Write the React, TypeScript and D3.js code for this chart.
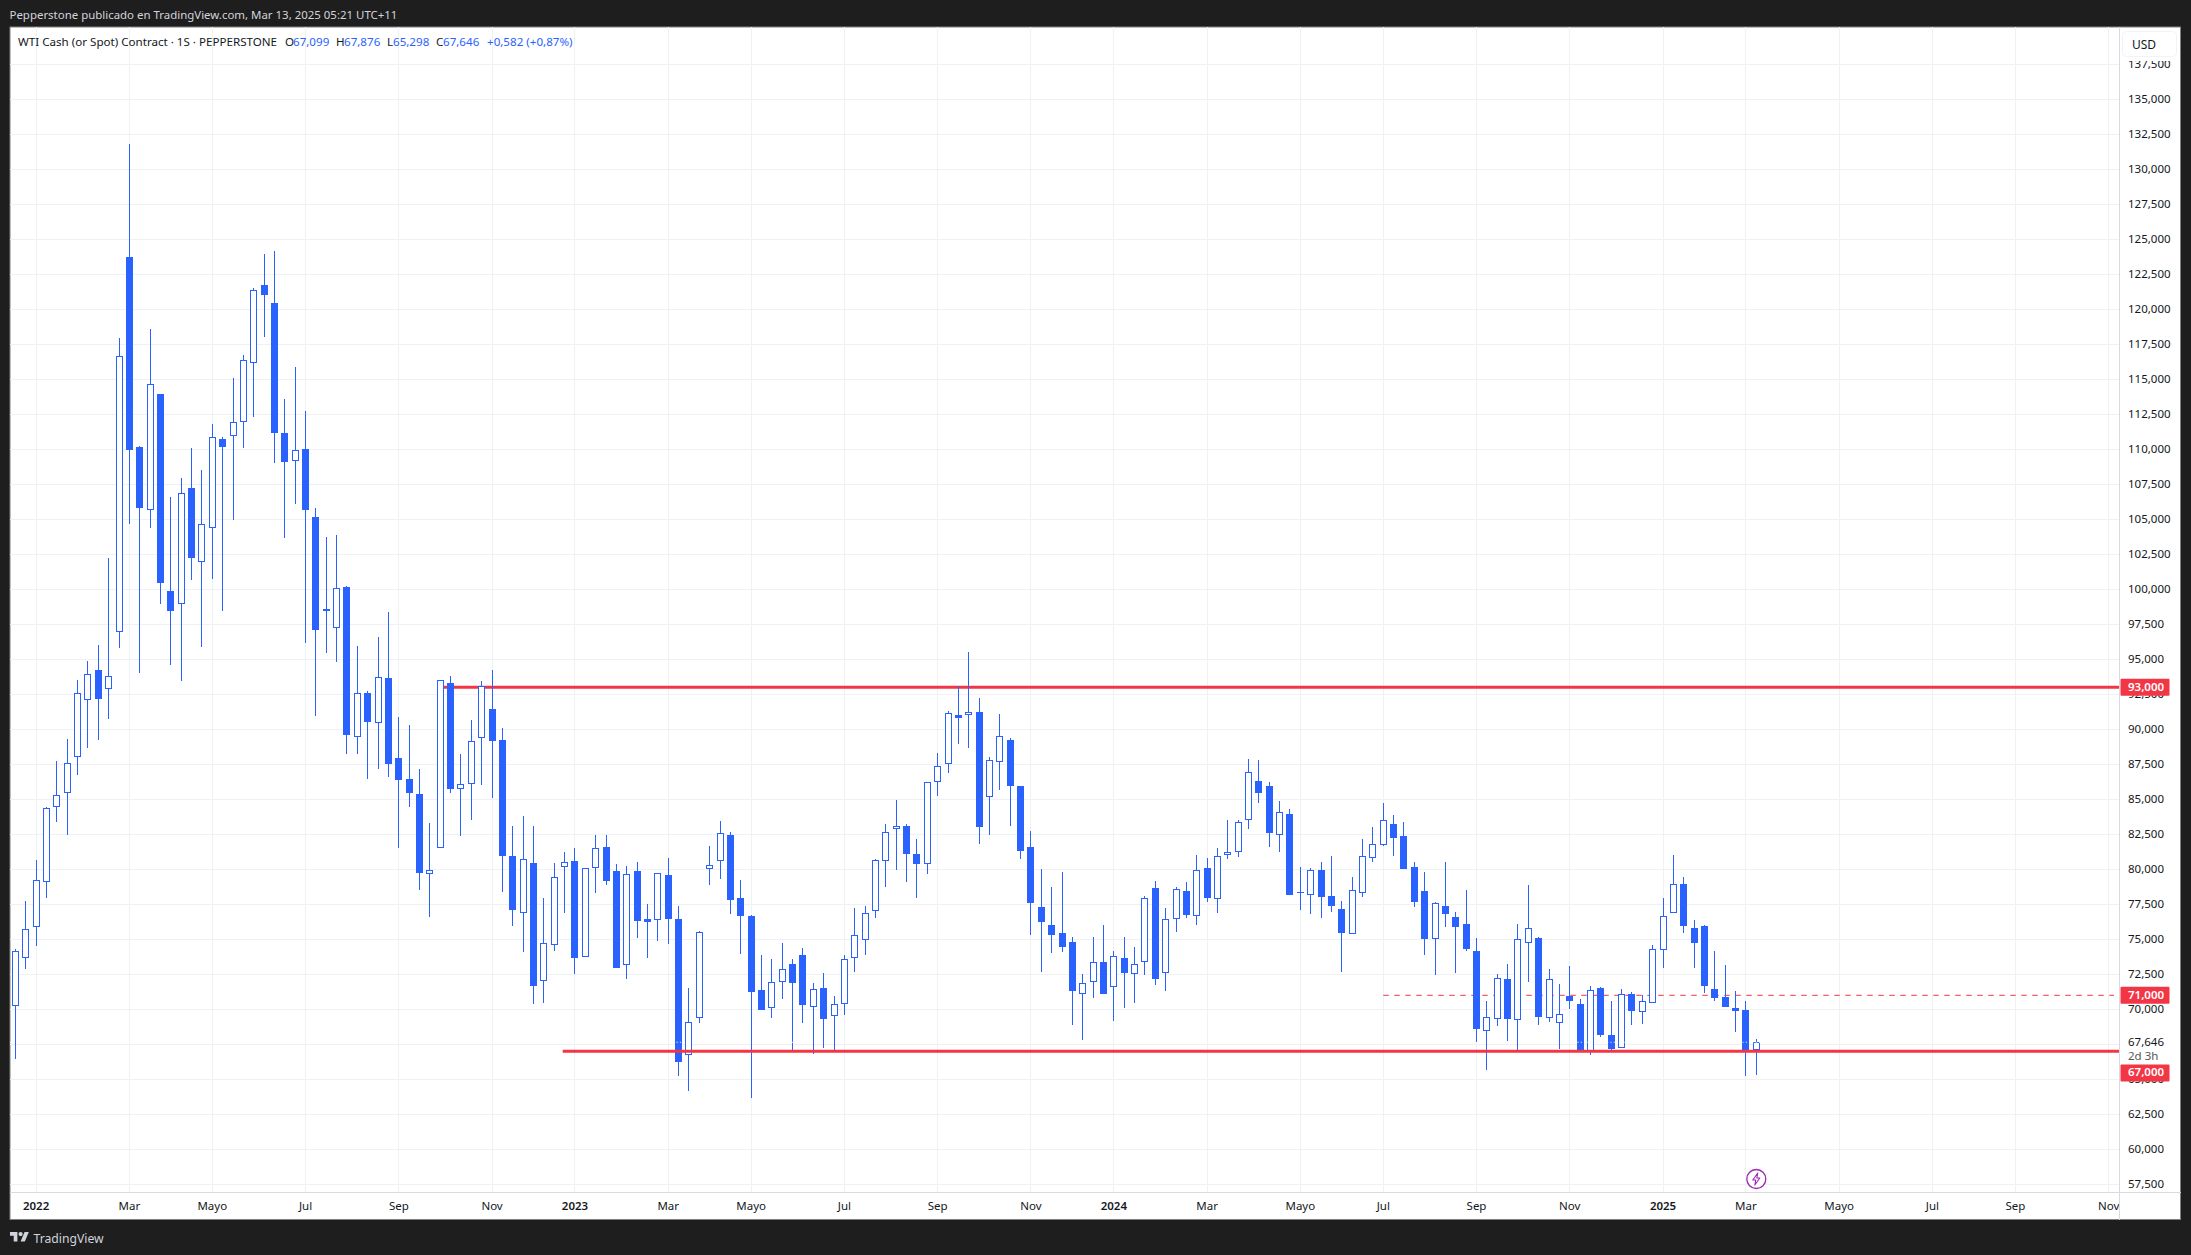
import React from "react";
import * as d3 from "d3";

// weekly candles, one value per week from the first bar on
const firstWeek = new Date(Date.UTC(2021, 11, 20));
const opens = [
  70.21, 73.64, 75.86, 79.07, 84.43, 85.43, 88, 92.07, 94.21, 92.86, 96.93, 123.74, 110.17, 105.64, 113.95, 99.88, 98.93, 107.21, 101.93, 104.36,
  110.74, 110.93, 111.93, 116.14, 121.74, 120.45, 111.17, 109.14, 110.02, 105.17, 98.6, 97.21, 100.17, 89.43, 92.57, 90.43, 93.67, 87.95, 86.43, 85.38,
  79.64, 81.5, 93.29, 85.71, 86.07, 89.36, 91.43, 89.24, 80.93, 76.86, 80.43, 72, 74.57, 80.14, 80.57, 73.71, 80.07, 81.57, 79.88, 73.14,
  79.88, 76.43, 76.36, 79.6, 76.45, 66.71, 69.36, 80, 80.57, 82.45, 77.95, 76.67, 71.38, 70.07, 71.93, 73.24, 73.88, 70.14, 71.52, 69.55,
  70.36, 73.64, 74.93, 77, 80.57, 82.86, 83.1, 81.1, 80.36, 86.21, 87.5, 91.02, 91, 91.24, 85.14, 87.64, 89.24, 85.95, 81.6, 77.31,
  76.02, 75.45, 74.81, 71.07, 71.93, 73.36, 71.57, 73.64, 72.5, 73.36, 78.64, 72.57, 76.43, 78.43, 76.64, 80.07, 77.86, 81, 81.21, 83.5,
  86.29, 85.93, 82.43, 83.95, 78.41, 78.19, 79.93, 78.07, 77.14, 75.4, 78.33, 80.83, 81.71, 83.24, 82.38, 80.17, 78.45, 75, 77.38, 76.6,
  76.1, 74.17, 68.43, 69.33, 72.17, 69.21, 74.71, 75.1, 69.36, 69, 70.95, 70.38, 66.93, 71.52, 68.17, 67.21, 71.07, 69.79, 70.43, 74.21,
  76.86, 78.93, 75.79, 75.95, 71.43, 70.88, 70.1, 69.95, 67.099,
];
const highs = [
  74.31, 77.74, 80.67, 84.45, 87.74, 89.31, 93.5, 94.88, 96.02, 102.24, 117.95, 131.81, 110.24, 118.6, 113.95, 106.6, 107.95, 110.1, 108.52, 111.81,
  110.88, 115.1, 116.74, 121.52, 123.95, 124.17, 113.6, 115.88, 112.74, 105.81, 103.74, 103.88, 100.24, 95.95, 92.71, 96.6, 98.38, 90.88, 90.31, 87.17,
  83.31, 93.5, 93.81, 88.24, 90.67, 93.45, 94.21, 90.07, 83.1, 83.79, 83.1, 77.95, 80.43, 81.24, 81.52, 80.07, 82.45, 82.45, 80.38, 80.24,
  80.52, 77.52, 79.75, 80.81, 77.38, 71.52, 75.6, 81.67, 83.45, 82.67, 79.24, 76.74, 73.88, 73.6, 74.74, 73.6, 74.38, 71.88, 72.6, 70.95,
  73.88, 77.24, 77.38, 80.74, 83.24, 84.95, 83.24, 82.17, 86.21, 88.31, 91.31, 93.1, 95.52, 92.24, 88.02, 91.1, 89.38, 85.95, 82.74, 80.02,
  78.74, 79.81, 75.17, 72.52, 75.17, 76.02, 74.17, 75.17, 74.45, 78.1, 79.17, 77.24, 78.74, 79.1, 81.02, 80.81, 81.52, 83.52, 83.52, 87.88,
  87.81, 86.24, 84.88, 84.31, 80.17, 80.1, 80.52, 80.95, 77.74, 79.45, 82.17, 83.02, 84.74, 83.88, 83.38, 80.52, 79.81, 77.67, 80.52, 76.95,
  78.52, 75.1, 70.6, 72.52, 73.24, 76.1, 78.88, 75.17, 72.88, 71.81, 73.1, 70.74, 71.67, 71.6, 70.6, 71.45, 71.24, 71.02, 74.6, 77.95,
  81.02, 79.45, 76.38, 76.02, 74.17, 73.17, 71.31, 70.6, 67.876,
];
const lows = [
  66.48, 72.9, 74.55, 77.98, 83.4, 82.48, 86.76, 88.69, 89.26, 90.76, 95.83, 104.69, 94.05, 104.4, 98.98, 94.62, 93.48, 100.69, 95.9, 100.76,
  98.48, 104.98, 110.1, 112.33, 118.05, 109.05, 103.69, 106.12, 96.19, 90.98, 95.48, 94.81, 88.26, 88.26, 86.48, 87.19, 86.62, 81.55, 84.48, 78.55,
  76.62, 81.5, 85.48, 82.4, 83.55, 86.05, 85.12, 78.4, 75.98, 74.12, 70.4, 70.48, 74.19, 76.88, 72.55, 73.71, 78.33, 78.9, 72.98, 72.19,
  75.1, 73.69, 74.88, 74.69, 65.26, 64.19, 69.05, 78.9, 79.33, 76.83, 73.98, 63.69, 69.98, 69.4, 70.76, 67.1, 69.05, 66.83, 67.21, 66.98,
  69.62, 72.69, 73.9, 76.55, 78.76, 79.98, 79.12, 77.98, 79.69, 85.26, 86.9, 88.98, 88.69, 81.83, 82.48, 85.69, 83.12, 80.76, 75.33, 72.69,
  74.05, 74.12, 68.9, 67.83, 70.83, 71.12, 69.19, 70.12, 70.48, 72.48, 71.76, 71.33, 75.55, 76.55, 76.05, 77.69, 76.9, 80.74, 80.88, 82.88,
  84.74, 81.6, 81.24, 78.19, 77.1, 76.81, 76.52, 76.95, 72.67, 75.4, 78.02, 80.52, 81.7, 80.95, 80.05, 77.31, 73.88, 72.45, 75.88, 72.6,
  74.17, 67.67, 65.67, 68.81, 67.74, 66.98, 71.95, 68.88, 69.1, 67.17, 70.02, 67.02, 66.74, 68.02, 67.1, 67.21, 68.88, 68.95, 70.43, 72.95,
  76.86, 75.45, 72.95, 71.17, 70.6, 70.19, 68.38, 65.24, 65.298,
];
const closes = [
  74.14, 75.71, 79.21, 84.36, 85.29, 87.57, 92.57, 93.93, 92.19, 93.79, 116.64, 109.98, 105.83, 114.64, 100.48, 98.48, 106.86, 102.26, 104.64, 110.86,
  110.19, 111.93, 116.36, 121.36, 121.05, 111.19, 109.12, 109.93, 105.69, 97.12, 98.48, 100.07, 89.62, 92.57, 90.55, 93.71, 87.55, 86.4, 85.48, 79.76,
  79.93, 93.5, 85.76, 86.07, 89.14, 93.07, 89.19, 80.98, 77.12, 80.71, 71.69, 74.71, 79.43, 80.5, 73.69, 80.07, 81.5, 79.19, 72.98, 79.64,
  76.33, 76.26, 79.71, 76.48, 66.26, 69.07, 75.5, 80.29, 82.57, 77.83, 76.69, 71.26, 69.98, 71.93, 72.86, 71.9, 70.33, 71.43, 69.33, 70.36,
  73.57, 75.29, 76.86, 80.64, 82.64, 83.07, 81.12, 80.4, 86.21, 87.36, 91.14, 90.83, 91.21, 83.05, 87.79, 89.5, 85.98, 81.33, 77.62, 76.26,
  75.33, 74.48, 71.33, 71.86, 73.36, 71.12, 73.79, 72.62, 73.21, 77.93, 72.19, 76.43, 78.57, 76.76, 79.93, 77.98, 80.93, 81.21, 83.36, 86.93,
  85.48, 82.62, 84.07, 78.19, 78.36, 79.93, 78.05, 77.4, 75.48, 78.5, 80.93, 81.79, 83.5, 82.26, 80.05, 77.67, 75.02, 77.57, 76.83, 75.88,
  74.31, 68.62, 69.43, 72.21, 69.33, 75, 75.79, 69.48, 72.14, 69.64, 70.62, 67.1, 71.36, 68.17, 67.17, 71.07, 69.9, 70.57, 74.29, 76.64,
  78.93, 75.98, 74.76, 71.69, 70.83, 70.19, 69.9, 67.05, 67.646,
];

// week number of each label on the time axis, counted from firstWeek
const timeTickWeeks = [2, 11, 19, 28, 37, 46, 54, 63, 71, 80, 89, 98, 106, 115, 124, 132, 141, 150, 159, 167, 176, 185, 193, 202];
const timeTickLabels = ["2022", "Mar", "Mayo", "Jul", "Sep", "Nov", "2023", "Mar", "Mayo", "Jul", "Sep", "Nov", "2024", "Mar", "Mayo", "Jul", "Sep", "Nov", "2025", "Mar", "Mayo", "Jul", "Sep", "Nov"];
const priceTicks = d3.range(57.5, 138, 2.5);

const lastPrice = 67.646;
const resistance = 93;
const support = 67;
const dashedLevel = 71;

const BLUE = "#2962ff";
const RED = "#f23645";
const GRID = "#f0f1f4";
const DARK = "#1e1e1e";
const FONT = "'Noto Sans', sans-serif";

const plotLeft = 10;
const plotTop = 27;
const axisX = 2119.5;
const axisY = 1192.5;
const panelRight = 2180.5;
const panelBottom = 1219.5;
const labelShift = -1.2;

const weekDate = (i: number) => d3.utcMonday.offset(firstWeek, i);
const x = d3.scaleUtc().domain([weekDate(0), weekDate(168)]).range([15.4, 1756.3]);
const y = d3.scaleLinear().domain([117.5, 67]).range([344.3, 1051.3]);
const fmt = (v: number) => d3.format(".3f")(v).replace(".", ",");
const crisp = (v: number) => Math.floor(v) + 0.5;

const legendParts = [
  { text: "O", left: 285, color: "#131722" },
  { text: "67,099", left: 293, color: BLUE },
  { text: "H", left: 336, color: "#131722" },
  { text: "67,876", left: 344, color: BLUE },
  { text: "L", left: 387, color: "#131722" },
  { text: "65,298", left: 393, color: BLUE },
  { text: "C", left: 436, color: "#131722" },
  { text: "67,646", left: 443, color: BLUE },
  { text: "+0,582 (+0,87%)", left: 487, color: BLUE },
];

const Candles = () => (
  <g shapeRendering="crispEdges">
    {opens.map((open, i) => {
      const cx = crisp(x(weekDate(i)));
      const up = closes[i] >= open;
      const top = Math.round(y(Math.max(open, closes[i])));
      const bottom = Math.round(y(Math.min(open, closes[i])));
      return (
        <g key={i}>
          <line x1={cx} x2={cx} y1={y(highs[i])} y2={y(lows[i])} stroke={BLUE} strokeWidth={1} />
          {up ? (
            <rect x={cx - 3} y={top + 0.5} width={6} height={Math.max(bottom - top - 1, 1)} fill="#fff" stroke={BLUE} strokeWidth={1} />
          ) : (
            <rect x={cx - 3.5} y={top} width={7} height={Math.max(bottom - top, 1)} fill={BLUE} />
          )}
        </g>
      );
    })}
  </g>
);

const PriceAxis = () => (
  <g fontFamily={FONT} fontSize={11.5} fill="#131722">
    {priceTicks.map((t) => (
      <text key={t} x={2128} y={y(t) + labelShift} dominantBaseline="central">
        {fmt(t)}
      </text>
    ))}
    <rect x={axisX + 1} y={plotTop + 1} width={panelRight - axisX - 2} height={33} fill="#fff" />
    <rect x={2122.5} y={31.5} width={54} height={25} rx={4} fill="#fff" stroke="#f0f3fa" />
    <text x={2132} y={44.5} dominantBaseline="central" fontSize={12}>USD</text>

    <rect x={axisX + 1} y={1034} width={57} height={30} fill="#fff" />
    <text x={2128} y={y(lastPrice) + labelShift} dominantBaseline="central">{fmt(lastPrice)}</text>
    <text x={2128} y={1055} dominantBaseline="central" fill="#555">2d 3h</text>

    {[
      { value: resistance, mid: y(resistance) },
      { value: dashedLevel, mid: y(dashedLevel) },
      { value: support, mid: 1073 },
    ].map((d) => (
      <g key={d.value}>
        <rect x={axisX + 1} y={d.mid - 8.5} width={49} height={17} rx={1} fill={RED} />
        <text x={2128} y={d.mid + labelShift} dominantBaseline="central" fill="#fff" fontWeight={600}>
          {fmt(d.value)}
        </text>
      </g>
    ))}
  </g>
);

const TimeAxis = () => (
  <g fontFamily={FONT} fontSize={11.5} fill="#131722" textAnchor="middle">
    {timeTickWeeks.map((w, i) => (
      <text key={w} x={x(weekDate(w))} y={1205} dominantBaseline="central" fontWeight={/^\d/.test(timeTickLabels[i]) ? 600 : 400}>
        {timeTickLabels[i]}
      </text>
    ))}
  </g>
);

export default function App() {
  return (
    <div style={{ position: "fixed", left: 0, top: 0 }}>
      <svg width={2191} height={1255} style={{ display: "block" }}>
        <rect width={2191} height={1255} fill={DARK} />
        <text x={9.5} y={14.5} dominantBaseline="central" fontFamily={FONT} fontSize={11.45} fill="#d1d4dc">
          Pepperstone publicado en TradingView.com, Mar 13, 2025 05:21 UTC+11
        </text>

        <rect x={plotLeft} y={plotTop} width={panelRight - plotLeft} height={panelBottom - plotTop} fill="#fff" stroke="#808080" />

        <g stroke={GRID} shapeRendering="crispEdges">
          {priceTicks.map((t) => (
            <line key={t} x1={plotLeft} x2={axisX} y1={crisp(y(t))} y2={crisp(y(t))} />
          ))}
          {timeTickWeeks.map((w) => (
            <line key={w} x1={crisp(x(weekDate(w)))} x2={crisp(x(weekDate(w)))} y1={plotTop} y2={axisY} />
          ))}
        </g>

        <line x1={x(weekDate(132))} x2={2114} y1={y(dashedLevel)} y2={y(dashedLevel)} stroke={RED} strokeDasharray="5.5 5.5" />
        <line x1={443.6} x2={axisX} y1={y(resistance)} y2={y(resistance)} stroke={RED} strokeWidth={3} />

        <Candles />

        <line x1={562.7} x2={axisX} y1={y(support)} y2={y(support)} stroke={RED} strokeWidth={3} />
        <line x1={plotLeft} x2={axisX} y1={y(lastPrice)} y2={y(lastPrice)} stroke="#fff" strokeDasharray="1 2.3" />

        <g fontFamily={FONT} fontSize={11.6} dominantBaseline="central">
          <text x={18} y={41.7} fill="#131722">WTI Cash (or Spot) Contract · 1S · PEPPERSTONE</text>
          {legendParts.map((p) => (
            <text key={p.left} x={p.left} y={41.7} fill={p.color}>{p.text}</text>
          ))}
        </g>

        <g transform="translate(1756.3,1179)">
          <circle r={9.5} fill="#fff" stroke="#9c27b0" strokeWidth={1.3} />
          <path d="M1.5,-6 L-3.5,1 L-0.5,1 L-1.5,6 L3.5,-1 L0.5,-1 Z" fill="none" stroke="#9c27b0" strokeWidth={1.1} strokeLinejoin="round" />
        </g>

        <TimeAxis />
        <PriceAxis />

        <g stroke="#d9dadf" shapeRendering="crispEdges">
          <line x1={axisX} x2={axisX} y1={plotTop} y2={panelBottom} />
          <line x1={plotLeft} x2={panelRight} y1={axisY} y2={axisY} />
        </g>

        <g transform="translate(10,1232) scale(0.53)" fill="#d1d4dc">
          <path d="M14 18H7V7H0V0h14v18zM28 18h-8l7.5-18h8L28 18z" />
          <circle cx={20} cy={4} r={4} />
        </g>
        <text x={33.5} y={1238} dominantBaseline="central" fontFamily={FONT} fontSize={12.2} fill="#d1d4dc">TradingView</text>
      </svg>
    </div>
  );
}
